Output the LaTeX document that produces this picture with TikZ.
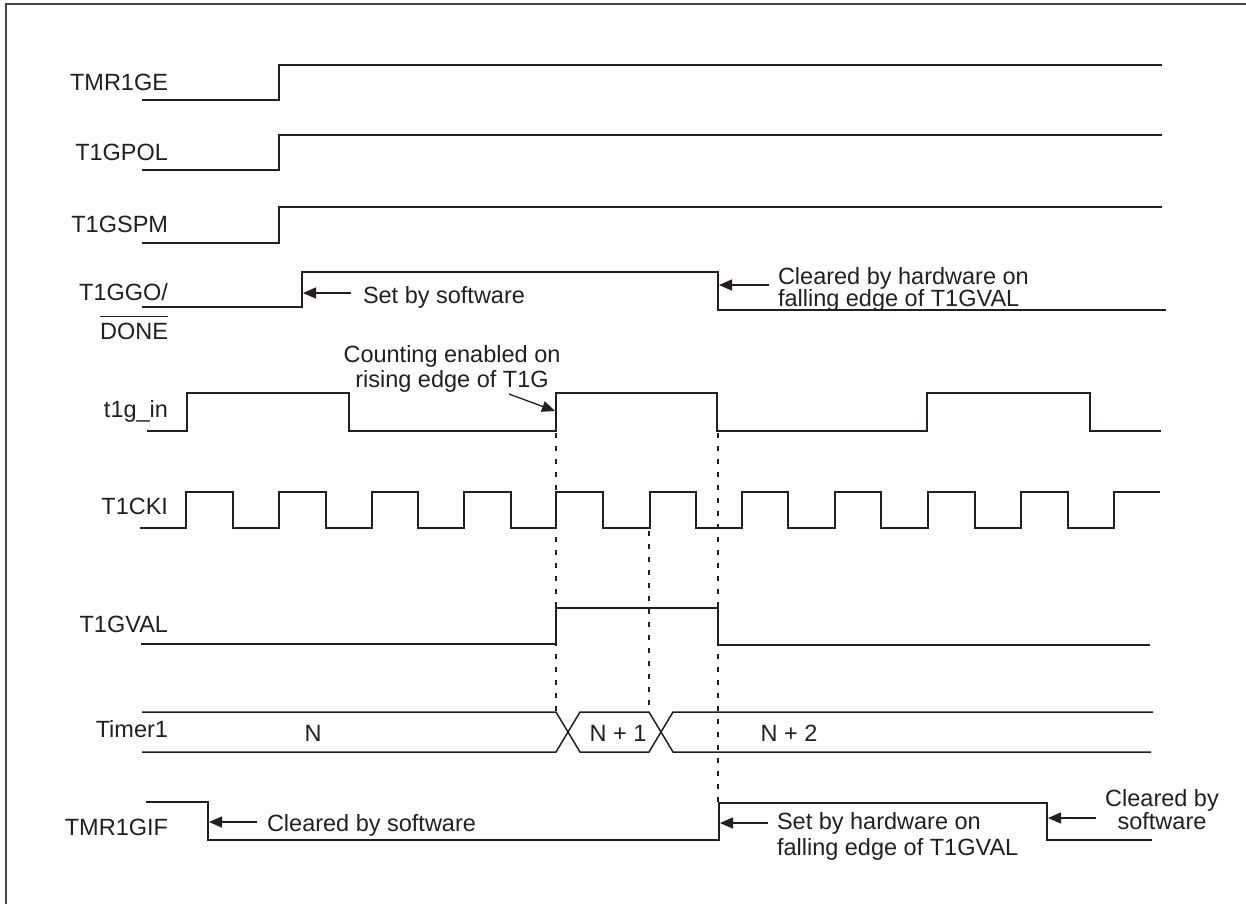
\documentclass[tikz,border=0pt]{standalone}
\usepackage{fontspec}
\setmainfont{Liberation Sans}
\usetikzlibrary{arrows.meta}
\definecolor{ink}{HTML}{231F20}
\definecolor{framec}{HTML}{444444}
\begin{document}
\begin{tikzpicture}[x=1pt,y=-1pt,
  every node/.style={inner sep=0pt, outer sep=0pt, text=ink, font=\fontsize{23.5}{26}\selectfont},
  lbl/.style={anchor=base east},
  txt/.style={anchor=base west},
  ctxt/.style={anchor=base},
  sig/.style={draw=ink, line width=1.5pt, line join=miter},
  guide/.style={draw=ink, line width=1.2pt, dash pattern=on 5pt off 8pt},
  ann/.style={draw=ink, line width=1.3pt, -{Triangle[length=13pt,width=11pt]}}]
\useasboundingbox (0,0) rectangle (1246,903);
% frame (cropped at right and bottom)
\draw[framec, line width=1.6pt] (6,910) -- (6,4) -- (1252,4);

% labels
\node[lbl] (lTMR1GE) at (168,90) {TMR1GE};
\node[lbl] (lT1GPOL) at (168,160) {T1GPOL};
\node[lbl] (lT1GSPM) at (168,232) {T1GSPM};
\node[lbl] (lT1GGO) at (168,300) {T1GGO/};
\node[lbl] (lDONE) at (168,339) {DONE};
\draw[ink, line width=1.3pt] ([yshift=6pt]lDONE.north west) -- ([yshift=6pt]lDONE.north east);
\node[lbl] (lt1gin) at (168,417) {t1g\_in};
\node[lbl] (lT1CKI) at (168,514) {T1CKI};
\node[lbl] (lT1GVAL) at (168,632) {T1GVAL};
\node[lbl] (lTimer1) at (168,737) {Timer1};
\node[lbl] (lTMR1GIF) at (168,835) {TMR1GIF};

% waveforms
\draw[sig] (142,100) -| (279,65) -- (1162,65);
\draw[sig] (142,170) -| (279,135) -- (1162,135);
\draw[sig] (142,243) -| (279,207) -- (1162,207);
\draw[sig] (142,307) -| (302,272) -| (718,310) -- (1166,310);
\draw[sig] (147,431) -| (187,393) -| (349,431) -| (556,393) -| (717,431) -| (927,393) -| (1090,431) -- (1161,431);
\draw[sig] (140,528) -| (186,492) -| (233,528) -| (279,492) -| (326,528) -| (372,492) -| (418,528) -| (464,492) -| (511,528) -| (556,492) -| (603,528) -| (650,492) -| (696,528) -| (742,492) -| (788,528) -| (835,492) -| (881,528) -| (928,492) -| (975,528) -| (1021,492) -| (1068,528) -| (1114,492) -- (1160,492);
\draw[sig] (141,644) -| (556,608) -| (718,645) -- (1150,645);
% Timer1 bus
\draw[sig] (142,712) -- (556,712) -- (580,752) -- (649,752) -- (673,712) -- (1153,712);
\draw[sig] (142,752) -- (556,752) -- (580,712) -- (649,712) -- (673,752) -- (1151,752);
\node[ctxt] (vN) at (313,741) {N};
\node[ctxt] (vN1) at (618,741) {N + 1};
\node[ctxt] (vN2) at (789,741) {N + 2};
% TMR1GIF
\draw[sig] (146,802) -| (208,840) -| (719,803) -| (1047,840) -- (1152,840);

% dashed guides
\draw[guide] (556,433) -- (556,712);
\draw[guide] (649,531) -- (649,712);
\draw[guide] (718,433) -- (718,803);

% annotations
\node[txt] (tSet) at (363,303) {Set by software};
\coordinate (aSetT) at (351,293);
\coordinate (aSetH) at (303,293);
\draw[ann] (aSetT) -- (aSetH);

\node[txt] (tClrHw1) at (778,284) {Cleared by hardware on};
\node[txt] (tClrHw2) at (778,306) {falling edge of T1GVAL};
\coordinate (aClrHwT) at (769,285);
\coordinate (aClrHwH) at (719,285);
\draw[ann] (aClrHwT) -- (aClrHwH);

\node[ctxt] (tCnt1) at (452,362) {Counting enabled on};
\node[ctxt] (tCnt2) at (452,387) {rising edge of T1G};
\coordinate (aCntT) at (509,394);
\coordinate (aCntH) at (555,411);
\draw[ann] (aCntT) -- (aCntH);

\node[txt] (tClrSw) at (267,831) {Cleared by software};
\coordinate (aClrSwT) at (257,822);
\coordinate (aClrSwH) at (209,822);
\draw[ann] (aClrSwT) -- (aClrSwH);

\node[txt] (tSetHw1) at (777,829) {Set by hardware on};
\node[txt] (tSetHw2) at (777,855) {falling edge of T1GVAL};
\coordinate (aSetHwT) at (768,823);
\coordinate (aSetHwH) at (720,823);
\draw[ann] (aSetHwT) -- (aSetHwH);

\node[ctxt] (tClr1) at (1162,806) {Cleared by};
\node[ctxt] (tClr2) at (1162,829) {software};
\coordinate (aClrT) at (1096,818);
\coordinate (aClrH) at (1048,818);
\draw[ann] (aClrT) -- (aClrH);
\end{tikzpicture}
\end{document}
